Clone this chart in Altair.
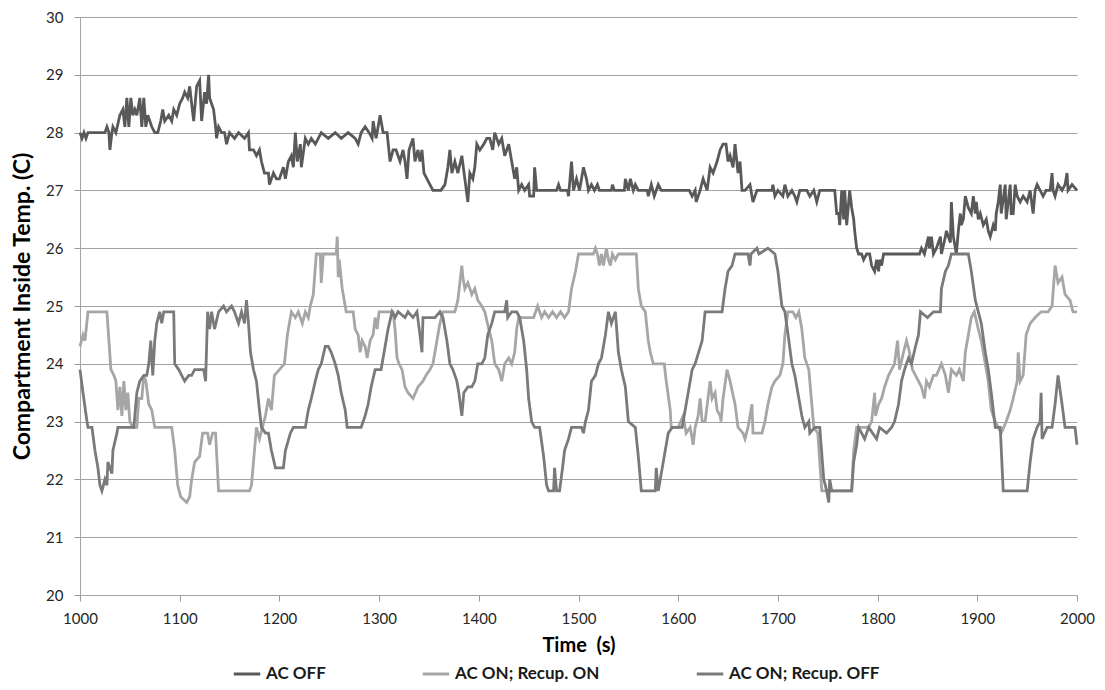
import altair as alt
import pandas as pd

SERIES = ["AC OFF", "AC ON; Recup. ON", "AC ON; Recup. OFF"]
COLORS = ["#595959", "#a6a6a6", "#7a7a7a"]
X_TICKS = list(range(1000, 2001, 100))
Y_TICKS = list(range(20, 31))

ac_off = [
    (1000, 28.0), (1002, 27.9), (1004, 28.0), (1006, 27.9), (1008, 28.0), (1025, 28.0), (1027, 28.1),
    (1029, 28.0), (1030, 27.7), (1032, 28.0), (1033, 28.1), (1036, 28.0), (1040, 28.3), (1043, 28.4),
    (1045, 28.1), (1047, 28.6), (1049, 28.1), (1051, 28.6), (1053, 28.3), (1055, 28.4), (1057, 28.3),
    (1060, 28.6), (1062, 28.1), (1064, 28.6), (1066, 28.1), (1068, 28.3), (1072, 28.1), (1075, 28.0),
    (1078, 28.0), (1081, 28.2), (1083, 28.4), (1085, 28.2), (1089, 28.3), (1092, 28.2), (1094, 28.4),
    (1097, 28.3), (1100, 28.5), (1103, 28.6), (1105, 28.7), (1108, 28.6), (1110, 28.8), (1114, 28.2),
    (1117, 28.8), (1120, 28.9), (1122, 28.2), (1125, 28.7), (1127, 28.5), (1129, 29.0), (1130, 28.6),
    (1134, 28.4), (1136, 28.1), (1137, 27.9), (1139, 28.1), (1142, 28.0), (1145, 28.0), (1147, 27.8),
    (1150, 28.0), (1155, 27.9), (1159, 28.0), (1165, 27.9), (1169, 28.0), (1170, 27.7), (1174, 27.7),
    (1177, 27.6), (1180, 27.7), (1182, 27.5), (1185, 27.3), (1189, 27.3), (1190, 27.1), (1194, 27.3),
    (1197, 27.2), (1200, 27.2), (1204, 27.4), (1206, 27.2), (1209, 27.5), (1212, 27.6), (1214, 27.4),
    (1216, 28.0), (1218, 27.5), (1221, 27.8), (1222, 27.4), (1226, 27.9), (1229, 27.8), (1232, 27.9),
    (1236, 27.8), (1239, 27.9), (1242, 28.0), (1249, 27.9), (1256, 28.0), (1262, 27.9), (1269, 28.0),
    (1276, 27.9), (1279, 27.8), (1282, 28.0), (1286, 28.1), (1290, 28.0), (1293, 27.9), (1294, 28.2),
    (1297, 27.9), (1301, 28.3), (1304, 28.0), (1308, 28.0), (1311, 27.5), (1314, 27.7), (1317, 27.7),
    (1321, 27.5), (1324, 27.7), (1326, 27.5), (1328, 27.2), (1330, 27.7), (1334, 27.9), (1336, 27.5),
    (1339, 27.7), (1341, 27.5), (1343, 27.7), (1345, 27.3), (1348, 27.2), (1351, 27.1), (1354, 27.0),
    (1362, 27.0), (1366, 27.1), (1369, 27.4), (1371, 27.7), (1373, 27.3), (1376, 27.5), (1379, 27.3),
    (1383, 27.6), (1386, 27.2), (1389, 26.8), (1391, 27.3), (1394, 27.2), (1396, 27.4), (1398, 27.8),
    (1401, 27.7), (1405, 27.8), (1408, 27.9), (1411, 27.9), (1414, 27.7), (1416, 28.0), (1420, 27.8),
    (1423, 27.9), (1426, 27.6), (1430, 27.8), (1433, 27.5), (1436, 27.2), (1438, 27.4), (1440, 27.0),
    (1443, 27.1), (1446, 27.0), (1450, 27.1), (1451, 26.9), (1455, 26.9), (1456, 27.4), (1458, 27.0),
    (1478, 27.0), (1480, 27.1), (1482, 27.0), (1489, 27.0), (1490, 26.9), (1493, 27.5), (1495, 27.0),
    (1498, 27.2), (1501, 27.0), (1505, 27.4), (1508, 27.2), (1510, 27.0), (1513, 27.1), (1516, 27.0),
    (1519, 27.1), (1521, 27.0), (1533, 27.0), (1534, 27.1), (1536, 27.0), (1546, 27.0), (1547, 27.2),
    (1550, 27.0), (1552, 27.2), (1555, 27.0), (1557, 27.1), (1560, 27.0), (1569, 27.0), (1570, 26.9),
    (1573, 27.1), (1576, 26.9), (1580, 27.1), (1583, 27.0), (1611, 27.0), (1614, 26.9), (1617, 27.0),
    (1618, 26.8), (1622, 27.0), (1625, 27.2), (1629, 27.0), (1632, 27.4), (1635, 27.3), (1639, 27.5),
    (1642, 27.7), (1645, 27.8), (1648, 27.8), (1650, 27.5), (1652, 27.6), (1655, 27.4), (1657, 27.8),
    (1660, 27.3), (1662, 27.5), (1664, 27.0), (1667, 27.0), (1672, 27.1), (1674, 26.9), (1675, 26.8),
    (1679, 27.0), (1694, 27.0), (1695, 27.1), (1697, 26.9), (1700, 27.0), (1705, 26.9), (1707, 27.1),
    (1710, 26.9), (1714, 27.0), (1717, 26.9), (1719, 26.8), (1722, 27.0), (1729, 27.0), (1732, 26.9),
    (1736, 27.0), (1739, 26.8), (1742, 27.0), (1757, 27.0), (1759, 26.6), (1761, 26.6), (1762, 26.4),
    (1764, 27.0), (1766, 26.5), (1767, 27.0), (1769, 26.4), (1771, 26.8), (1772, 27.0), (1774, 26.7),
    (1776, 26.5), (1777, 26.3), (1779, 26.0), (1781, 25.9), (1784, 25.9), (1786, 25.8), (1789, 25.9),
    (1792, 25.9), (1794, 25.7), (1797, 25.6), (1799, 25.8), (1801, 25.6), (1802, 25.8), (1804, 25.7),
    (1806, 25.9), (1842, 25.9), (1844, 26.0), (1847, 25.9), (1851, 26.2), (1852, 26.0), (1854, 26.2),
    (1856, 25.9), (1859, 26.0), (1863, 26.2), (1864, 25.9), (1868, 26.2), (1869, 26.3), (1873, 26.1),
    (1874, 26.8), (1876, 26.2), (1878, 26.0), (1879, 25.9), (1881, 26.3), (1883, 26.6), (1884, 26.4),
    (1886, 26.5), (1888, 26.9), (1891, 26.7), (1894, 26.6), (1896, 26.9), (1898, 26.6), (1899, 26.8),
    (1901, 26.5), (1903, 26.6), (1906, 26.4), (1909, 26.5), (1911, 26.3), (1913, 26.2), (1916, 26.4),
    (1918, 26.3), (1919, 26.6), (1921, 26.8), (1923, 27.1), (1924, 26.6), (1928, 27.1), (1929, 26.5),
    (1933, 27.1), (1934, 26.6), (1936, 26.6), (1938, 27.1), (1940, 26.9), (1943, 26.8), (1946, 26.9),
    (1950, 26.8), (1953, 27.0), (1956, 26.6), (1958, 27.0), (1960, 27.1), (1963, 27.0), (1966, 26.9),
    (1969, 27.0), (1973, 27.0), (1975, 27.3), (1976, 27.0), (1978, 26.9), (1981, 27.1), (1985, 27.0),
    (1988, 27.1), (1990, 27.3), (1991, 27.0), (1995, 27.1), (2000, 27.0),
]

ac_on_recup_on = [
    (1000, 24.3), (1003, 24.5), (1005, 24.4), (1008, 24.9), (1027, 24.9), (1029, 24.4), (1031, 23.9),
    (1034, 23.8), (1036, 23.7), (1038, 23.2), (1040, 23.6), (1042, 23.1), (1044, 23.7), (1046, 23.2),
    (1048, 23.5), (1050, 23.0), (1053, 22.9), (1057, 22.9), (1059, 23.4), (1062, 23.4), (1064, 23.8),
    (1066, 23.7), (1069, 23.3), (1072, 23.2), (1075, 22.9), (1092, 22.9), (1095, 22.5), (1098, 21.9),
    (1101, 21.7), (1107, 21.6), (1110, 21.7), (1112, 22.0), (1115, 22.3), (1120, 22.4), (1123, 22.8),
    (1128, 22.8), (1130, 22.6), (1133, 22.8), (1136, 22.8), (1139, 21.8), (1170, 21.8), (1172, 21.9),
    (1175, 22.5), (1177, 22.9), (1180, 22.7), (1183, 22.9), (1186, 23.1), (1189, 23.4), (1192, 23.2),
    (1195, 23.8), (1200, 23.9), (1205, 24.0), (1208, 24.5), (1212, 24.9), (1216, 24.8), (1219, 24.9),
    (1223, 24.7), (1226, 24.9), (1229, 24.8), (1231, 25.0), (1234, 25.2), (1237, 25.9), (1241, 25.9),
    (1242, 25.4), (1244, 25.9), (1257, 25.9), (1258, 26.2), (1259, 25.5), (1260, 25.8), (1263, 25.3),
    (1267, 24.9), (1274, 24.9), (1276, 24.6), (1279, 24.5), (1281, 24.2), (1283, 24.4), (1286, 24.3),
    (1288, 24.1), (1291, 24.4), (1294, 24.5), (1296, 24.8), (1298, 24.6), (1300, 24.9), (1314, 24.9),
    (1316, 24.6), (1318, 24.1), (1320, 24.0), (1323, 23.9), (1326, 23.6), (1329, 23.5), (1334, 23.4),
    (1339, 23.6), (1344, 23.7), (1347, 23.8), (1351, 23.9), (1354, 24.0), (1358, 24.4), (1361, 24.7),
    (1364, 24.9), (1376, 24.9), (1379, 25.1), (1381, 25.4), (1383, 25.7), (1384, 25.5), (1386, 25.3),
    (1389, 25.4), (1393, 25.2), (1396, 25.3), (1399, 25.1), (1403, 25.0), (1406, 24.9), (1410, 24.6),
    (1413, 24.4), (1416, 24.0), (1420, 23.9), (1423, 23.7), (1426, 24.0), (1430, 24.1), (1433, 24.0),
    (1436, 24.2), (1438, 24.6), (1440, 24.8), (1450, 24.8), (1455, 24.8), (1459, 25.0), (1463, 24.8),
    (1466, 24.9), (1470, 24.8), (1474, 24.9), (1478, 24.8), (1482, 24.9), (1486, 24.8), (1490, 24.9),
    (1493, 25.3), (1497, 25.6), (1500, 25.9), (1515, 25.9), (1517, 26.0), (1519, 25.9), (1521, 25.7),
    (1523, 25.9), (1525, 25.7), (1528, 26.0), (1530, 25.8), (1532, 25.7), (1534, 25.9), (1537, 25.8),
    (1540, 25.9), (1558, 25.9), (1560, 25.3), (1563, 25.0), (1567, 24.9), (1570, 24.4), (1572, 24.2),
    (1575, 24.0), (1586, 24.0), (1588, 23.7), (1592, 23.2), (1593, 22.9), (1600, 22.9), (1605, 23.1),
    (1608, 22.8), (1612, 22.9), (1615, 22.6), (1617, 22.9), (1620, 23.1), (1622, 23.4), (1624, 23.0),
    (1627, 23.0), (1632, 23.7), (1634, 23.4), (1637, 23.5), (1639, 23.2), (1642, 23.1), (1643, 23.0),
    (1645, 23.4), (1649, 23.9), (1652, 23.7), (1657, 23.3), (1660, 22.9), (1665, 22.8), (1667, 22.7),
    (1670, 22.9), (1674, 23.3), (1675, 22.8), (1684, 22.8), (1687, 23.0), (1690, 23.3), (1694, 23.6),
    (1697, 23.7), (1702, 23.8), (1705, 24.0), (1707, 24.5), (1710, 24.9), (1715, 24.9), (1718, 24.8),
    (1721, 24.9), (1724, 24.6), (1727, 24.1), (1731, 23.9), (1734, 23.3), (1736, 22.9), (1740, 22.8),
    (1744, 21.8), (1774, 21.8), (1776, 22.5), (1779, 22.9), (1791, 22.9), (1794, 23.0), (1797, 23.5),
    (1798, 23.1), (1801, 23.3), (1804, 23.4), (1807, 23.6), (1811, 23.8), (1814, 23.9), (1817, 24.0),
    (1820, 24.4), (1822, 23.9), (1826, 24.2), (1829, 24.4), (1832, 24.2), (1835, 23.9), (1838, 23.8),
    (1841, 23.7), (1844, 23.6), (1847, 23.4), (1849, 23.7), (1852, 23.6), (1856, 23.8), (1859, 23.8),
    (1864, 24.0), (1868, 23.8), (1871, 23.5), (1874, 23.9), (1879, 23.8), (1882, 23.9), (1886, 23.7),
    (1888, 24.2), (1891, 24.5), (1894, 24.8), (1897, 24.9), (1901, 24.6), (1904, 24.4), (1908, 24.0),
    (1911, 23.7), (1914, 23.2), (1918, 23.0), (1921, 22.9), (1924, 22.8), (1929, 23.0), (1933, 23.2),
    (1936, 23.4), (1940, 23.7), (1941, 24.2), (1943, 23.7), (1946, 23.8), (1949, 24.5), (1953, 24.7),
    (1958, 24.8), (1964, 24.9), (1971, 24.9), (1975, 25.0), (1978, 25.7), (1981, 25.4), (1985, 25.5),
    (1988, 25.2), (1993, 25.1), (1996, 24.9), (2000, 24.9),
]

ac_on_recup_off = [
    (1000, 23.9), (1003, 23.5), (1007, 23.0), (1008, 22.9), (1012, 22.9), (1015, 22.5), (1018, 22.2),
    (1020, 21.9), (1022, 21.8), (1025, 22.0), (1027, 21.9), (1028, 22.3), (1032, 22.1), (1033, 22.5),
    (1037, 22.8), (1038, 22.9), (1054, 22.9), (1055, 23.1), (1057, 23.5), (1060, 23.7), (1064, 23.8),
    (1067, 23.8), (1069, 24.0), (1071, 24.4), (1073, 23.8), (1075, 24.4), (1077, 24.7), (1080, 24.9),
    (1082, 24.7), (1084, 24.9), (1094, 24.9), (1095, 24.0), (1099, 23.9), (1102, 23.8), (1105, 23.7),
    (1109, 23.8), (1112, 23.8), (1115, 23.9), (1119, 23.9), (1124, 23.9), (1126, 23.7), (1128, 24.9),
    (1130, 24.6), (1132, 24.9), (1135, 24.6), (1139, 24.9), (1144, 25.0), (1147, 24.9), (1152, 25.0),
    (1155, 24.9), (1159, 24.7), (1162, 24.9), (1165, 24.7), (1167, 25.1), (1169, 24.7), (1171, 24.2),
    (1174, 23.9), (1177, 23.7), (1180, 23.2), (1182, 22.9), (1186, 22.8), (1189, 22.8), (1192, 22.5),
    (1196, 22.2), (1204, 22.2), (1206, 22.5), (1211, 22.8), (1214, 22.9), (1226, 22.9), (1229, 23.2),
    (1232, 23.4), (1236, 23.7), (1239, 23.9), (1242, 24.0), (1246, 24.3), (1249, 24.3), (1252, 24.2),
    (1256, 24.0), (1259, 23.8), (1262, 23.5), (1266, 23.2), (1268, 22.9), (1282, 22.9), (1286, 23.1),
    (1289, 23.3), (1292, 23.6), (1296, 23.9), (1302, 23.9), (1306, 24.3), (1309, 24.6), (1313, 24.9),
    (1316, 24.8), (1319, 24.9), (1326, 24.8), (1329, 24.9), (1334, 24.8), (1338, 24.9), (1341, 24.5),
    (1343, 24.2), (1344, 24.8), (1351, 24.8), (1356, 24.8), (1361, 24.9), (1364, 24.8), (1368, 24.4),
    (1371, 24.0), (1374, 23.9), (1378, 23.7), (1380, 23.5), (1383, 23.1), (1385, 23.5), (1389, 23.6),
    (1393, 23.6), (1396, 23.7), (1399, 24.0), (1403, 24.0), (1406, 24.1), (1409, 24.5), (1413, 24.7),
    (1416, 24.9), (1426, 24.9), (1428, 25.1), (1429, 24.8), (1433, 24.9), (1438, 24.9), (1441, 24.8),
    (1445, 24.4), (1448, 23.9), (1450, 23.4), (1453, 23.0), (1456, 22.9), (1461, 22.9), (1465, 22.4),
    (1468, 21.9), (1470, 21.8), (1475, 21.8), (1476, 22.2), (1478, 21.8), (1481, 21.8), (1484, 22.2),
    (1486, 22.5), (1490, 22.7), (1493, 22.9), (1503, 22.9), (1505, 22.8), (1507, 23.0), (1510, 23.2),
    (1513, 23.7), (1517, 23.8), (1520, 24.0), (1523, 24.1), (1527, 24.5), (1530, 24.9), (1533, 24.7),
    (1537, 24.9), (1540, 24.2), (1543, 23.9), (1547, 23.6), (1550, 23.0), (1557, 22.9), (1560, 22.4),
    (1563, 21.8), (1577, 21.8), (1578, 22.2), (1580, 21.8), (1583, 22.1), (1587, 22.5), (1590, 22.8),
    (1594, 22.9), (1604, 22.9), (1607, 23.2), (1610, 23.5), (1614, 23.9), (1617, 24.0), (1624, 24.4),
    (1627, 24.9), (1644, 24.9), (1647, 25.3), (1650, 25.6), (1654, 25.7), (1657, 25.9), (1670, 25.9),
    (1672, 25.7), (1673, 25.9), (1679, 26.0), (1681, 25.9), (1690, 26.0), (1697, 25.9), (1700, 25.6),
    (1704, 25.0), (1707, 24.9), (1711, 24.4), (1714, 24.0), (1717, 23.8), (1721, 23.4), (1724, 23.1),
    (1727, 22.9), (1731, 23.0), (1732, 22.8), (1737, 22.9), (1742, 22.9), (1746, 22.0), (1749, 21.8),
    (1751, 21.6), (1752, 22.0), (1754, 21.8), (1774, 21.8), (1776, 22.3), (1779, 22.6), (1781, 22.9),
    (1787, 22.7), (1791, 22.9), (1799, 22.7), (1802, 22.9), (1809, 22.8), (1814, 22.9), (1817, 23.0),
    (1821, 23.3), (1824, 23.7), (1827, 23.9), (1831, 24.1), (1834, 24.0), (1838, 24.3), (1841, 24.5),
    (1843, 24.9), (1850, 24.8), (1856, 24.9), (1863, 24.9), (1864, 25.3), (1868, 25.6), (1871, 25.7),
    (1874, 25.9), (1891, 25.9), (1894, 25.6), (1898, 25.1), (1901, 24.9), (1904, 24.7), (1908, 24.2),
    (1911, 23.9), (1914, 23.5), (1918, 22.9), (1923, 22.9), (1926, 21.8), (1950, 21.8), (1953, 22.3),
    (1956, 22.7), (1960, 22.9), (1963, 23.0), (1964, 23.5), (1965, 22.7), (1970, 22.9), (1975, 22.9),
    (1978, 23.3), (1981, 23.8), (1985, 23.3), (1988, 22.9), (1998, 22.9), (2000, 22.6),
]

frames = []
for name, pts in zip(SERIES, [ac_off, ac_on_recup_on, ac_on_recup_off]):
    frames.append(pd.DataFrame({"t": [p[0] for p in pts], "temp": [p[1] for p in pts], "series": name}))
df = pd.concat(frames, ignore_index=True)

x_enc = alt.X(
    "t:Q",
    scale=alt.Scale(domain=[1000, 2000], nice=False),
    axis=alt.Axis(values=X_TICKS, title="Time \u00a0(s)", grid=False, format="d",
                  labelFlush=False, labelPadding=10, titlePadding=9, titleFontSize=20),
)
y_enc = alt.Y(
    "temp:Q",
    scale=alt.Scale(domain=[20, 30], nice=False, zero=False),
    axis=alt.Axis(values=Y_TICKS, title="Compartment Inside Temp. (C)", grid=True, format="d",
                  labelFlush=False, labelPadding=11, titlePadding=11, titleFontSize=23),
)
color_enc = alt.Color(
    "series:N",
    scale=alt.Scale(domain=SERIES, range=COLORS),
    legend=alt.Legend(
        title=None, orient="none", direction="horizontal", legendX=152, legendY=642,
        symbolType="stroke", symbolSize=700, symbolStrokeWidth=3,
        labelFont="Lato", labelFontSize=17, labelFontWeight="bold", labelColor="#1a1a1a",
        columnPadding=90, labelOffset=4,
    ),
)

layers = []
for s in SERIES:
    layers.append(
        alt.Chart(df)
        .transform_filter(alt.datum.series == s)
        .mark_line(strokeWidth=2.8)
        .encode(x=x_enc, y=y_enc, color=color_enc)
    )

chart = (
    alt.layer(*layers)
    .properties(width=997, height=578, autosize="none",
                padding={"left": 72, "top": 9, "right": 20, "bottom": 87})
    .configure_view(strokeWidth=0)
    .configure_axis(
        labelFont="Lato", labelFontSize=15, labelColor="#262626",
        titleFont="Lato", titleFontWeight="bold", titleColor="#000000",
        tickColor="#9a9a9a", domainColor="#a6a6a6", tickSize=6,
        gridColor="#a3a3a3", gridWidth=1,
    )
)

chart.save("out.html", embed_options={"renderer": "svg", "actions": False})
